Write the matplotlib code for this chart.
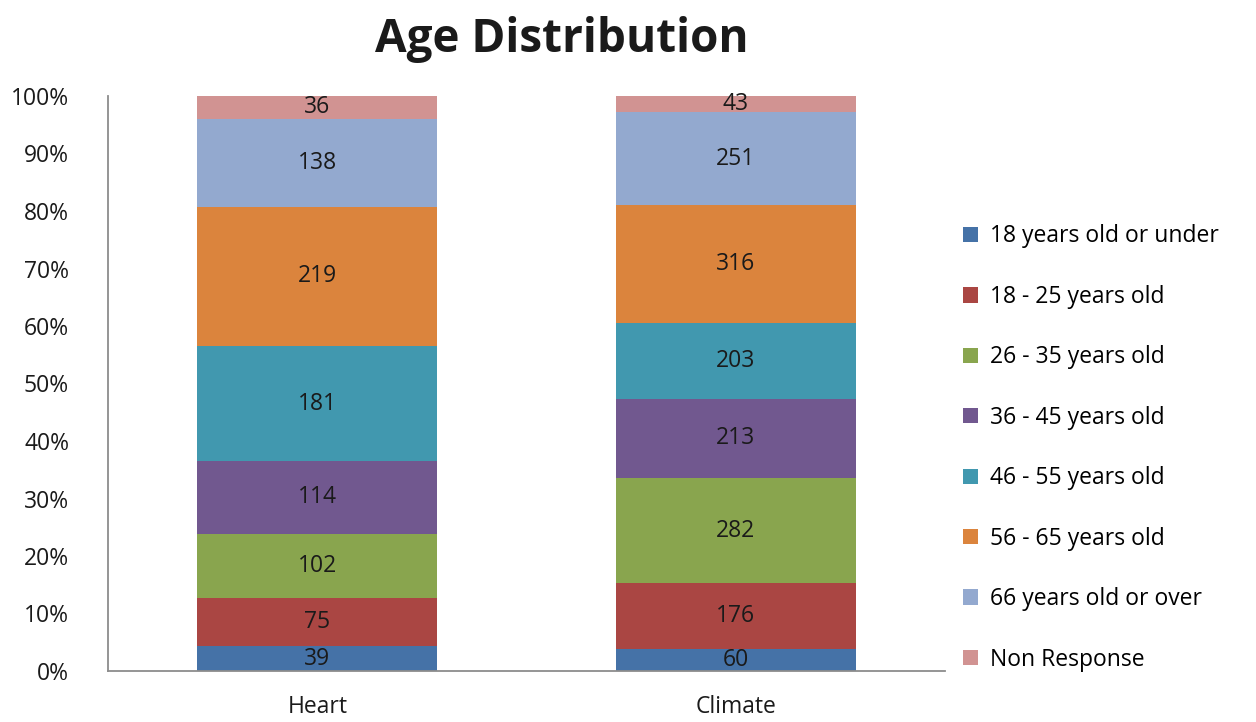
import numpy as np
import matplotlib.pyplot as plt

plt.rcParams['font.family'] = ['Open Sans', 'DejaVu Sans']

categories = ['Heart', 'Climate']
groups = ['18 years old or under', '18 - 25 years old', '26 - 35 years old',
          '36 - 45 years old', '46 - 55 years old', '56 - 65 years old',
          '66 years old or over', 'Non Response']
heart = [39, 75, 102, 114, 181, 219, 138, 36]
climate = [60, 176, 282, 213, 203, 316, 251, 43]
colors = ['#4572A7', '#AA4643', '#89A54E', '#71588F',
          '#4198AF', '#DB843D', '#93A9CF', '#D19392']

counts = np.array([heart, climate], dtype=float)  # rows = categories
shares = counts / counts.sum(axis=1, keepdims=True) * 100

fig = plt.figure(figsize=(12.56, 7.22), dpi=100)
ax = fig.add_axes([108 / 1256, 1 - 671 / 722, 837 / 1256, 575 / 722])

x = np.arange(len(categories))
bottom = np.zeros(len(categories))
handles = []
for i, g in enumerate(groups):
    bars = ax.bar(x, shares[:, i], width=0.573, bottom=bottom,
                  color=colors[i], label=g, linewidth=0)
    handles.append(bars)
    for j in range(len(categories)):
        ax.text(x[j], bottom[j] + shares[j, i] / 2, f'{int(counts[j, i])}',
                ha='center', va='center', fontsize=16.5, color='#1a1a1a')
    bottom += shares[:, i]

ax.set_xlim(-0.5, 1.5)
ax.set_ylim(0, 100)
ax.set_yticks(np.arange(0, 101, 10))
ax.set_yticklabels([f'{v}%' for v in range(0, 101, 10)])
ax.set_xticks(x)
ax.set_xticklabels(categories)
ax.tick_params(axis='both', length=0, labelsize=16.5, colors='#1a1a1a')
ax.tick_params(axis='y', pad=28)
ax.tick_params(axis='x', pad=17)
for s in ['top', 'right']:
    ax.spines[s].set_visible(False)
for s in ['left', 'bottom']:
    ax.spines[s].set_color('#8c8c8c')
    ax.spines[s].set_linewidth(1.3)

fig.text(0.447, 0.945, 'Age Distribution', ha='center', va='center',
         fontsize=33, fontweight='bold', color='#1a1a1a')

fig.legend(handles, groups, loc='center left',
           bbox_to_anchor=(942 / 1256, 1 - 448 / 722), frameon=False,
           fontsize=16.5, handlelength=0.65, handleheight=0.65,
           handletextpad=0.55, labelspacing=1.59)

fig.savefig('out.png', dpi=100)
